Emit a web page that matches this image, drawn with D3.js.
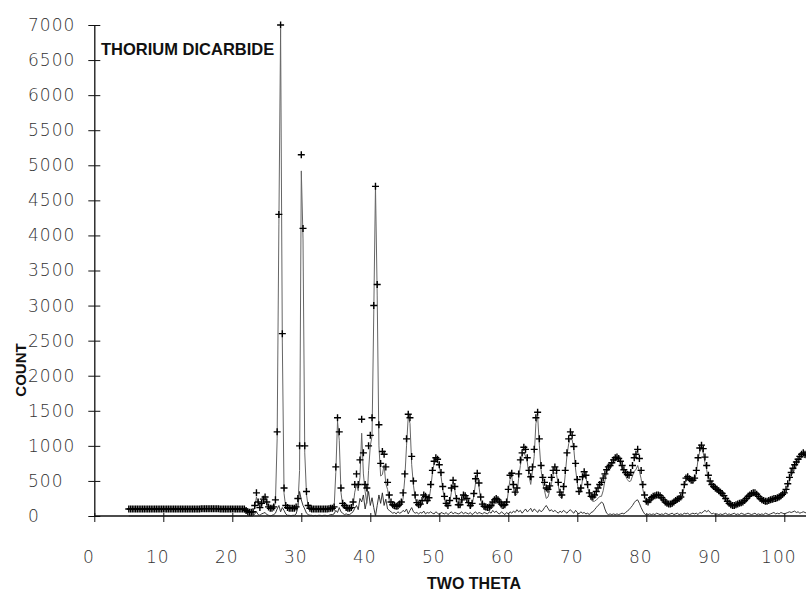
<!DOCTYPE html>
<html lang="en">
<head>
<meta charset="UTF-8">
<title>Thorium Dicarbide</title>
<script src="https://d3js.org/d3.v7.min.js"></script>
<style>
  body { margin: 0; background: #fff; }
  .axis text { font-family: "DejaVu Sans", sans-serif; font-weight: 200; font-size: 17px; letter-spacing: 1px; fill: #333; }
  .axis line, .axis path { stroke: #111; }
  .label { font-family: "Liberation Sans", Arial, sans-serif; font-weight: bold; fill: #111; }
</style>
</head>
<body>
<div id="chart"></div>
<script>
// observed counts on a 0.25 deg grid, starting at 5 deg
const obsStart = 5;
const obsStep = 0.25;
const obsCounts = [
  100, 100, 100, 100, 100, 100, 100, 100,   // 5
  100, 100, 100, 100, 100, 100, 100, 100,   // 7
  100, 100, 100, 100, 100, 100, 100, 100,   // 9
  100, 100, 100, 100, 100, 100, 100, 100,   // 11
  100, 100, 100, 100, 100, 100, 100, 100,   // 13
  100, 100, 105, 105, 105, 105, 105, 105,   // 15
  105, 105, 105, 105, 105, 100, 100, 100,   // 17
  100, 100, 100, 100, 100, 100, 100, 100,   // 19
  100, 100, 100, 100, 80, 60, 55, 55,       // 21
  60, 150, 330, 200, 120, 180, 240, 270,    // 23
  200, 130, 110, 110, 130, 230, 1200, 4300, // 25
  7000, 2600, 400, 150, 120, 110, 110, 110, // 27
  110, 130, 250, 1000, 5150, 4100, 1000, 350, // 29
  150, 110, 100, 100, 100, 100, 100, 100,   // 31
  100, 100, 100, 100, 105, 110, 110, 130,   // 33
  700, 1400, 1200, 400, 180, 150, 120, 110, // 35
  110, 120, 200, 450, 600, 450, 800, 1380,  // 37
  900, 450, 400, 1000, 1150, 1400, 3000, 4700, // 39
  3300, 1300, 750, 920, 880, 700, 480, 300, // 41
  200, 160, 150, 140, 150, 170, 200, 330,   // 43
  600, 1100, 1450, 1400, 850, 500, 300, 190, // 45
  160, 170, 220, 300, 280, 220, 260, 450,   // 47
  650, 780, 830, 810, 730, 620, 420, 280,   // 49
  180, 150, 220, 400, 510, 420, 250, 160,   // 51
  160, 230, 300, 290, 250, 190, 150, 180,   // 53
  320, 530, 610, 470, 270, 170, 140, 130,   // 55
  120, 130, 150, 200, 230, 250, 230, 200,   // 57
  170, 150, 160, 200, 380, 580, 610, 450,   // 59
  340, 400, 600, 800, 900, 980, 950, 830,   // 61
  650, 560, 700, 950, 1400, 1480, 1100, 720, // 63
  550, 480, 400, 380, 430, 550, 650, 700,   // 65
  650, 480, 340, 300, 420, 650, 900, 1100,  // 67
  1200, 1150, 990, 750, 520, 350, 400, 560, // 69
  630, 580, 450, 330, 280, 270, 300, 350,   // 71
  400, 450, 480, 540, 600, 660, 700, 720,   // 73
  760, 800, 830, 840, 820, 780, 720, 660,   // 75
  620, 590, 580, 620, 720, 830, 880, 950,   // 77
  820, 650, 450, 300, 210, 200, 230, 260,   // 79
  280, 290, 300, 300, 290, 260, 230, 200,   // 81
  180, 170, 170, 180, 200, 220, 240, 250,   // 83
  270, 330, 450, 540, 560, 530, 510, 510,   // 85
  540, 650, 830, 970, 1010, 960, 840, 720,  // 87
  580, 500, 450, 420, 400, 380, 360, 340,   // 89
  320, 290, 250, 210, 180, 160, 150, 150,   // 91
  160, 170, 180, 190, 200, 220, 250, 280,   // 93
  300, 320, 330, 330, 310, 280, 250, 230,   // 95
  220, 210, 210, 220, 230, 240, 250, 250,   // 97
  260, 270, 290, 310, 330, 380, 460, 550,   // 99
  620, 680, 730, 770, 810, 850, 880, 900,   // 101
  880, 870, 860                             // 103
];

// observed minus calculated, same grid
const diffCounts = [
  0, 0, 0, 0, 0, 0, 0, 0,
  0, 0, 0, 0, 0, 0, 0, 0,
  0, 0, 0, 0, 0, 0, 0, 0,
  0, 0, 0, 0, 0, 0, 0, 0,
  0, 0, 0, 0, 0, 0, 0, 0,
  0, 0, 0, 0, 0, 0, 0, 0,
  0, 0, 0, 0, 0, 0, 0, 0,
  0, 0, 0, 0, 0, 0, 0, 0,
  0, 0, 0, 0, 0, 0, 0, 0,
  0, 30, 60, 20, 10, 30, 40, 50,
  20, 10, 0, 10, 20, 40, 100, 150,
  60, 120, 80, 30, 10, 10, 0, 10,
  10, 30, 120, 350, 230, 150, 100, 40,
  20, 10, 10, 0, 10, 0, 10, 10,
  0, 10, 10, 0, 10, 20, 20, 30,
  80, 50, 120, 60, 40, 20, 30, 20,
  20, 40, 60, 110, 150, 90, 250, 200,
  300, 100, 220, 350, 150, 260, 120, 0,
  150, 300, 180, 330, 150, 240, 100, 80,
  60, 40, 50, 30, 60, 40, 50, 80,
  60, 100, 30, 80, 120, 60, 40, 50,
  30, 50, 40, 70, 30, 50, 40, 60,
  40, 30, 60, 40, 20, 50, 40, 30,
  50, 20, 40, 60, 30, 50, 40, 30,
  40, 60, 30, 50, 40, 30, 50, 20,
  40, 60, 30, 50, 40, 30, 50, 40,
  30, 60, 40, 80, 50, 70, 40, 30,
  60, 40, 20, 50, 30, 60, 40, 70,
  50, 90, 60, 80, 40, 70, 100, 60,
  80, 110, 60, 100, 80, 50, 90, 60,
  80, 120, 150, 110, 70, 90, 60, 80,
  60, 40, 70, 50, 80, 60, 40, 70,
  90, 60, 40, 80, 50, 30, 60, 40,
  50, 30, 40, 20, 50, 60, 90, 120,
  150, 170, 200, 180, 100, 40, 20, 30,
  20, 30, 20, 30, 20, 30, 40, 30,
  50, 70, 90, 120, 150, 190, 220, 230,
  180, 120, 70, 30, 10, 20, 30, 20,
  30, 20, 40, 30, 20, 30, 20, 40,
  30, 20, 30, 40, 20, 30, 40, 20,
  30, 20, 40, 30, 40, 20, 30, 40,
  30, 40, 20, 50, 40, 60, 80, 60,
  80, 50, 30, 40, 20, 30, 20, 30,
  20, 30, 40, 20, 30, 20, 30, 40,
  20, 30, 20, 40, 30, 20, 30, 40,
  30, 20, 30, 40, 20, 30, 20, 30,
  20, 40, 30, 20, 30, 40, 50, 30,
  40, 30, 50, 40, 30, 40, 50, 60,
  50, 60, 70, 50, 60, 40, 50, 60,
  50, 40, 50
];

const xTicks = [0, 10, 20, 30, 40, 50, 60, 70, 80, 90, 100];
const yTicks = [0, 500, 1000, 1500, 2000, 2500, 3000, 3500, 4000, 4500, 5000, 5500, 6000, 6500, 7000];

const width = 806, height = 593;

const svg = d3.select("#chart").append("svg")
    .attr("width", width)
    .attr("height", height);

const x = d3.scaleLinear().domain([0, 100]).range([94.3, 784.3]);
const y = d3.scaleLinear().domain([0, 7000]).range([516, 25]);

const points = obsCounts.map((c, i) => ({
    t: obsStart + i * obsStep,
    obs: c,
    diff: diffCounts[i],
    calc: c - diffCounts[i]
}));

// y axis with crossing ticks
const yAxis = svg.append("g")
    .attr("class", "axis")
    .attr("transform", `translate(${x(0)},0)`)
    .call(d3.axisLeft(y).tickValues(yTicks).tickSize(6).tickSizeOuter(0).tickFormat(d3.format("d")));
yAxis.select(".domain").attr("stroke-width", 1.3);
yAxis.selectAll(".tick line").attr("x1", 6).attr("x2", -6);
yAxis.selectAll(".tick text")
    .attr("x", 28 - x(0))
    .attr("text-anchor", "start");

// x axis
const xAxis = svg.append("g")
    .attr("class", "axis")
    .attr("transform", `translate(0,${y(0)})`)
    .call(d3.axisBottom(x).tickValues(xTicks).tickSize(6).tickSizeOuter(0).tickFormat(d3.format("d")));
xAxis.select(".domain").remove();
xAxis.selectAll(".tick line").attr("y1", -3).attr("y2", 6);
xAxis.selectAll(".tick text").attr("y", 35).attr("dx", -6);
xAxis.append("line")
    .attr("x1", x(0)).attr("x2", width)
    .attr("y1", 0).attr("y2", 0)
    .attr("stroke", "#111")
    .attr("stroke-width", 1.3);

// difference curve
svg.append("path")
    .datum(points)
    .attr("fill", "none")
    .attr("stroke", "#222")
    .attr("stroke-width", 0.9)
    .attr("d", d3.line().x(d => x(d.t)).y(d => y(d.diff)));

// calculated curve
svg.append("path")
    .datum(points)
    .attr("fill", "none")
    .attr("stroke", "#666")
    .attr("stroke-width", 1)
    .attr("d", d3.line().x(d => x(d.t)).y(d => y(d.calc)));

// observed "+" markers
svg.append("g")
    .selectAll("path")
    .data(points)
    .join("path")
    .attr("transform", d => `translate(${x(d.t)},${y(d.obs)})`)
    .attr("d", "M-3.5,0H3.5M0,-3.5V3.5")
    .attr("stroke", "#000")
    .attr("stroke-width", 1.4);

// labels
svg.append("text")
    .attr("class", "label")
    .attr("x", 101).attr("y", 55)
    .attr("font-size", 16.5)
    .text("THORIUM DICARBIDE");

svg.append("text")
    .attr("class", "label")
    .attr("x", 474).attr("y", 589)
    .attr("text-anchor", "middle")
    .attr("font-size", 16)
    .text("TWO THETA");

svg.append("text")
    .attr("class", "label")
    .attr("transform", "translate(26,370) rotate(-90)")
    .attr("text-anchor", "middle")
    .attr("font-size", 15)
    .text("COUNT");
</script>
</body>
</html>
